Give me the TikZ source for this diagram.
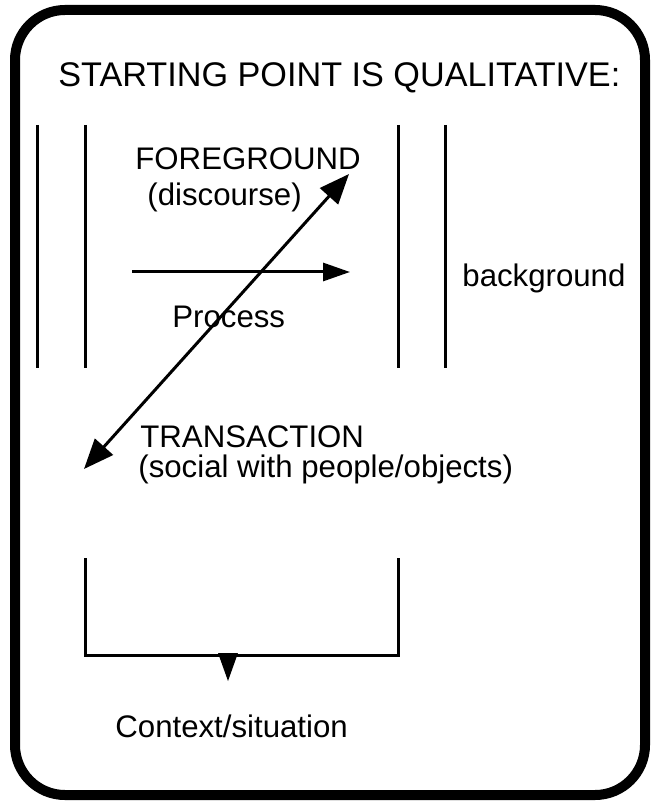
\documentclass[tikz,border=0pt]{standalone}
\usepackage{fontspec}
\setmainfont{Liberation Sans}
\usetikzlibrary{arrows.meta}
\tikzset{
  txt/.style={anchor=base west,inner sep=0pt,font=\fontsize{15.6pt}{18pt}\selectfont},
  bar/.style={line width=1.5pt},
  tip/.style={bar,-{Triangle[length=13.5pt,width=9pt]}},
  twotip/.style={bar,{Triangle[length=15pt,width=12pt]}-{Triangle[length=15pt,width=12pt]}}
}
\begin{document}
\begin{tikzpicture}[x=0.5pt,y=-0.5pt]
\useasboundingbox (0,0) rectangle (657,801);
% frame
\draw[line width=5pt,rounded corners=25pt] (15,10) rectangle (645,795);
\node[txt,font=\fontsize{17.1pt}{19pt}\selectfont] (title) at (58,87) {STARTING POINT IS QUALITATIVE:};
% side bars
\draw[bar] (37,125)--(37,368);
\draw[bar] (85,125)--(85,368);
\draw[bar] (398,125)--(398,368);
\draw[bar] (445,125)--(445,368);
\node[txt] (fg) at (135,170) {FOREGROUND};
\node[txt] (disc) at (147,206) {(discourse)};
\node[txt] (proc) at (172,328) {Process};
\node[txt] (bg) at (462,287) {background};
\coordinate (pa) at (132,272);
\coordinate (pb) at (350,272);
\draw[tip] (pa)--(pb);
\node[txt] (trans) at (140,447) {TRANSACTION};
\node[txt] (soc) at (138,477) {(social with people/objects)};
\coordinate (da) at (349,174);
\coordinate (db) at (84,469);
\draw[twotip] (db)--(da);
% bracket
\coordinate (ba) at (85,558);
\coordinate (bb) at (85,655);
\coordinate (bc) at (398,655);
\coordinate (bd) at (398,558);
\draw[bar] (ba)--(bb)--(bc)--(bd);
\coordinate (ta) at (228,653);
\coordinate (tb) at (228,681);
\draw[line width=0pt,-{Triangle[length=14pt,width=10pt]}] (ta)--(tb);
\node[txt] (ctx) at (115,737) {Context/situation};
\end{tikzpicture}
\end{document}
